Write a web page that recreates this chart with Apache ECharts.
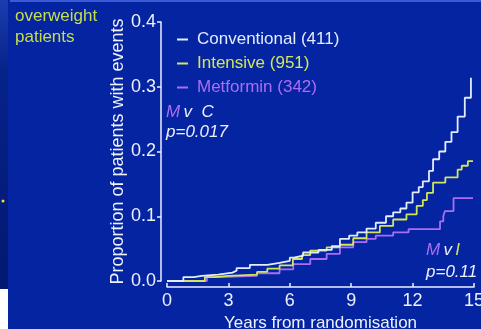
<!DOCTYPE html>
<html>
<head>
<meta charset="utf-8">
<script src="https://cdn.jsdelivr.net/npm/echarts@6/dist/echarts.min.js"></script>
<style>
  html, body { margin: 0; padding: 0; background: #ffffff; }
  #chart { width: 481px; height: 329px; }
</style>
</head>
<body>
<div id="chart"></div>
<script>
// Kaplan–Meier style cumulative event proportions (overweight patients)
const seriesNames = ['Conventional (411)', 'Intensive (951)', 'Metformin (342)'];

const convYears  = [0, 0.8, 1.3, 1.7, 2.5, 3.2, 3.4, 4.05, 4.9, 5.5, 6.0, 6.2, 6.65, 7.4, 8.05, 8.45, 8.9, 9.3, 9.75, 10.2, 10.7, 11.05, 11.4, 11.7, 12.0, 12.3, 12.5, 12.8, 13.0, 13.3, 13.6, 13.9, 14.2, 14.55, 14.85];
const convValues = [0, 0.006, 0.008, 0.010, 0.013, 0.016, 0.020, 0.025, 0.028, 0.031, 0.036, 0.039, 0.044, 0.048, 0.054, 0.065, 0.070, 0.075, 0.081, 0.090, 0.100, 0.106, 0.112, 0.121, 0.137, 0.145, 0.154, 0.170, 0.188, 0.200, 0.215, 0.230, 0.254, 0.283, 0.314];

const intYears  = [0, 1.85, 2.3, 3.0, 4.4, 4.9, 5.5, 6.15, 6.6, 7.0, 7.8, 8.45, 9.1, 9.75, 10.4, 11.05, 11.7, 12.2, 12.5, 12.7, 13.0, 13.6, 14.2, 14.4, 14.7, 14.95];
const intValues = [0, 0.006, 0.008, 0.010, 0.014, 0.019, 0.024, 0.034, 0.040, 0.047, 0.052, 0.056, 0.066, 0.075, 0.085, 0.095, 0.103, 0.116, 0.125, 0.136, 0.152, 0.160, 0.172, 0.178, 0.185, 0.185];

const metYears  = [0, 1.95, 2.5, 4.4, 5.5, 6.17, 7.0, 7.8, 8.45, 9.1, 9.75, 10.2, 11.05, 11.8, 13.34, 13.5, 13.58, 14.0, 14.95];
const metValues = [0, 0.006, 0.008, 0.012, 0.018, 0.026, 0.034, 0.042, 0.052, 0.060, 0.065, 0.070, 0.075, 0.080, 0.092, 0.100, 0.108, 0.128, 0.128];

const xTicks = [0, 3, 6, 9, 12, 15];
const yTicks = [0.0, 0.1, 0.2, 0.3, 0.4];

const colors = { conv: '#e4ecff', int: '#d2e65a', met: '#ab6ef2', text: '#eef0fa', side: '#c6de4e' };

const pairs = (xs, ys) => xs.map((x, i) => [x, ys[i]]);

const chart = echarts.init(document.getElementById('chart'), null, { renderer: 'canvas' });

const FAMILY = '"Liberation Sans", Arial, sans-serif';
const tickFont = { fontFamily: FAMILY, fontSize: 18, color: colors.text };

chart.setOption({
  backgroundColor: '#0424a2',
  animation: false,
  grid: { left: 167, right: 7, top: 22, bottom: 48, outerBoundsMode: 'none', containLabel: false },
  xAxis: {
    type: 'value', min: xTicks[0], max: xTicks[xTicks.length - 1], interval: 3,
    offset: 6,
    name: 'Years from randomisation', nameLocation: 'middle', nameGap: 25,
    nameTextStyle: { fontFamily: FAMILY, fontSize: 17, color: colors.text },
    axisLine: { show: true, onZero: false, lineStyle: { color: colors.text, width: 1.5 } },
    axisTick: { show: true, inside: true, length: 4, lineStyle: { color: colors.text, width: 1.5 } },
    axisLabel: Object.assign({ margin: 5 }, tickFont),
    splitLine: { show: false }
  },
  yAxis: {
    type: 'value', min: yTicks[0], max: yTicks[yTicks.length - 1], interval: 0.1,
    offset: 6,
    name: 'Proportion of patients with events', nameLocation: 'middle', nameGap: 34,
    nameMoveOverlap: false,
    nameTextStyle: { fontFamily: FAMILY, fontSize: 18, color: colors.text },
    axisLine: { show: true, onZero: false, lineStyle: { color: colors.text, width: 1.5 } },
    axisTick: { show: true, inside: false, length: 4, lineStyle: { color: colors.text, width: 1.5 } },
    axisLabel: Object.assign({ margin: 5, formatter: v => v.toFixed(1) }, tickFont),
    splitLine: { show: false }
  },
  legend: {
    orient: 'vertical', left: 172, top: 26, itemGap: 7,
    icon: 'rect', itemWidth: 11, itemHeight: 2,
    textStyle: { fontFamily: FAMILY, fontSize: 17, padding: [0, 0, 0, 4] },
    data: [
      { name: seriesNames[0], textStyle: { color: colors.conv } },
      { name: seriesNames[1], textStyle: { color: colors.int } },
      { name: seriesNames[2], textStyle: { color: colors.met } }
    ]
  },
  series: [
    { name: seriesNames[2], type: 'line', step: 'end', showSymbol: false, symbol: 'none', clip: false,
      lineStyle: { color: colors.met, width: 1.8 }, itemStyle: { color: colors.met },
      data: pairs(metYears, metValues), z: 2 },
    { name: seriesNames[1], type: 'line', step: 'end', showSymbol: false, symbol: 'none', clip: false,
      lineStyle: { color: colors.int, width: 1.8 }, itemStyle: { color: colors.int },
      data: pairs(intYears, intValues), z: 3 },
    { name: seriesNames[0], type: 'line', step: 'end', showSymbol: false, symbol: 'none', clip: false,
      lineStyle: { color: colors.conv, width: 1.8 }, itemStyle: { color: colors.conv },
      data: pairs(convYears, convValues), z: 4 }
  ],
  graphic: [
    // dark side strip and white corner
    { type: 'rect', left: 0, top: 0, z: -1, shape: { width: 8, height: 289 },
      style: { fill: new echarts.graphic.LinearGradient(0, 0, 0, 1, [
        { offset: 0, color: '#1a3cae' }, { offset: 0.25, color: '#06238a' }, { offset: 1, color: '#031870' }]) } },
    { type: 'rect', left: 0, top: 289, z: -1, shape: { width: 8, height: 40 }, style: { fill: '#ffffff' } },
    { type: 'rect', left: 10, top: 0, z: -1, shape: { width: 471, height: 2 }, style: { fill: '#3a5ad6' } },
    { type: 'circle', shape: { cx: 3, cy: 201, r: 1.5 }, style: { fill: '#f0e030' } },
    // side caption
    { type: 'text', left: 15, top: 6, style: { text: 'overweight\npatients', fill: colors.side,
      font: '17px ' + FAMILY, lineHeight: 21 } },
    // pairwise comparison notes
    { type: 'text', left: 166, top: 102, style: {
      text: '{m|M} {w|v  C}\n{w|p=0.017}',
      lineHeight: 20,
      rich: {
        m: { fill: colors.met, font: 'italic 17px ' + FAMILY },
        w: { fill: colors.text, font: 'italic 17px ' + FAMILY }
      } } },
    { type: 'text', left: 426, top: 239, style: {
      text: '{m|M} {w|v} {y|I}\n{w|p=0.11}',
      lineHeight: 22,
      rich: {
        m: { fill: colors.met, font: 'italic 17px ' + FAMILY },
        w: { fill: colors.text, font: 'italic 17px ' + FAMILY },
        y: { fill: colors.int, font: 'italic 17px ' + FAMILY }
      } } }
  ]
});
</script>
</body>
</html>
